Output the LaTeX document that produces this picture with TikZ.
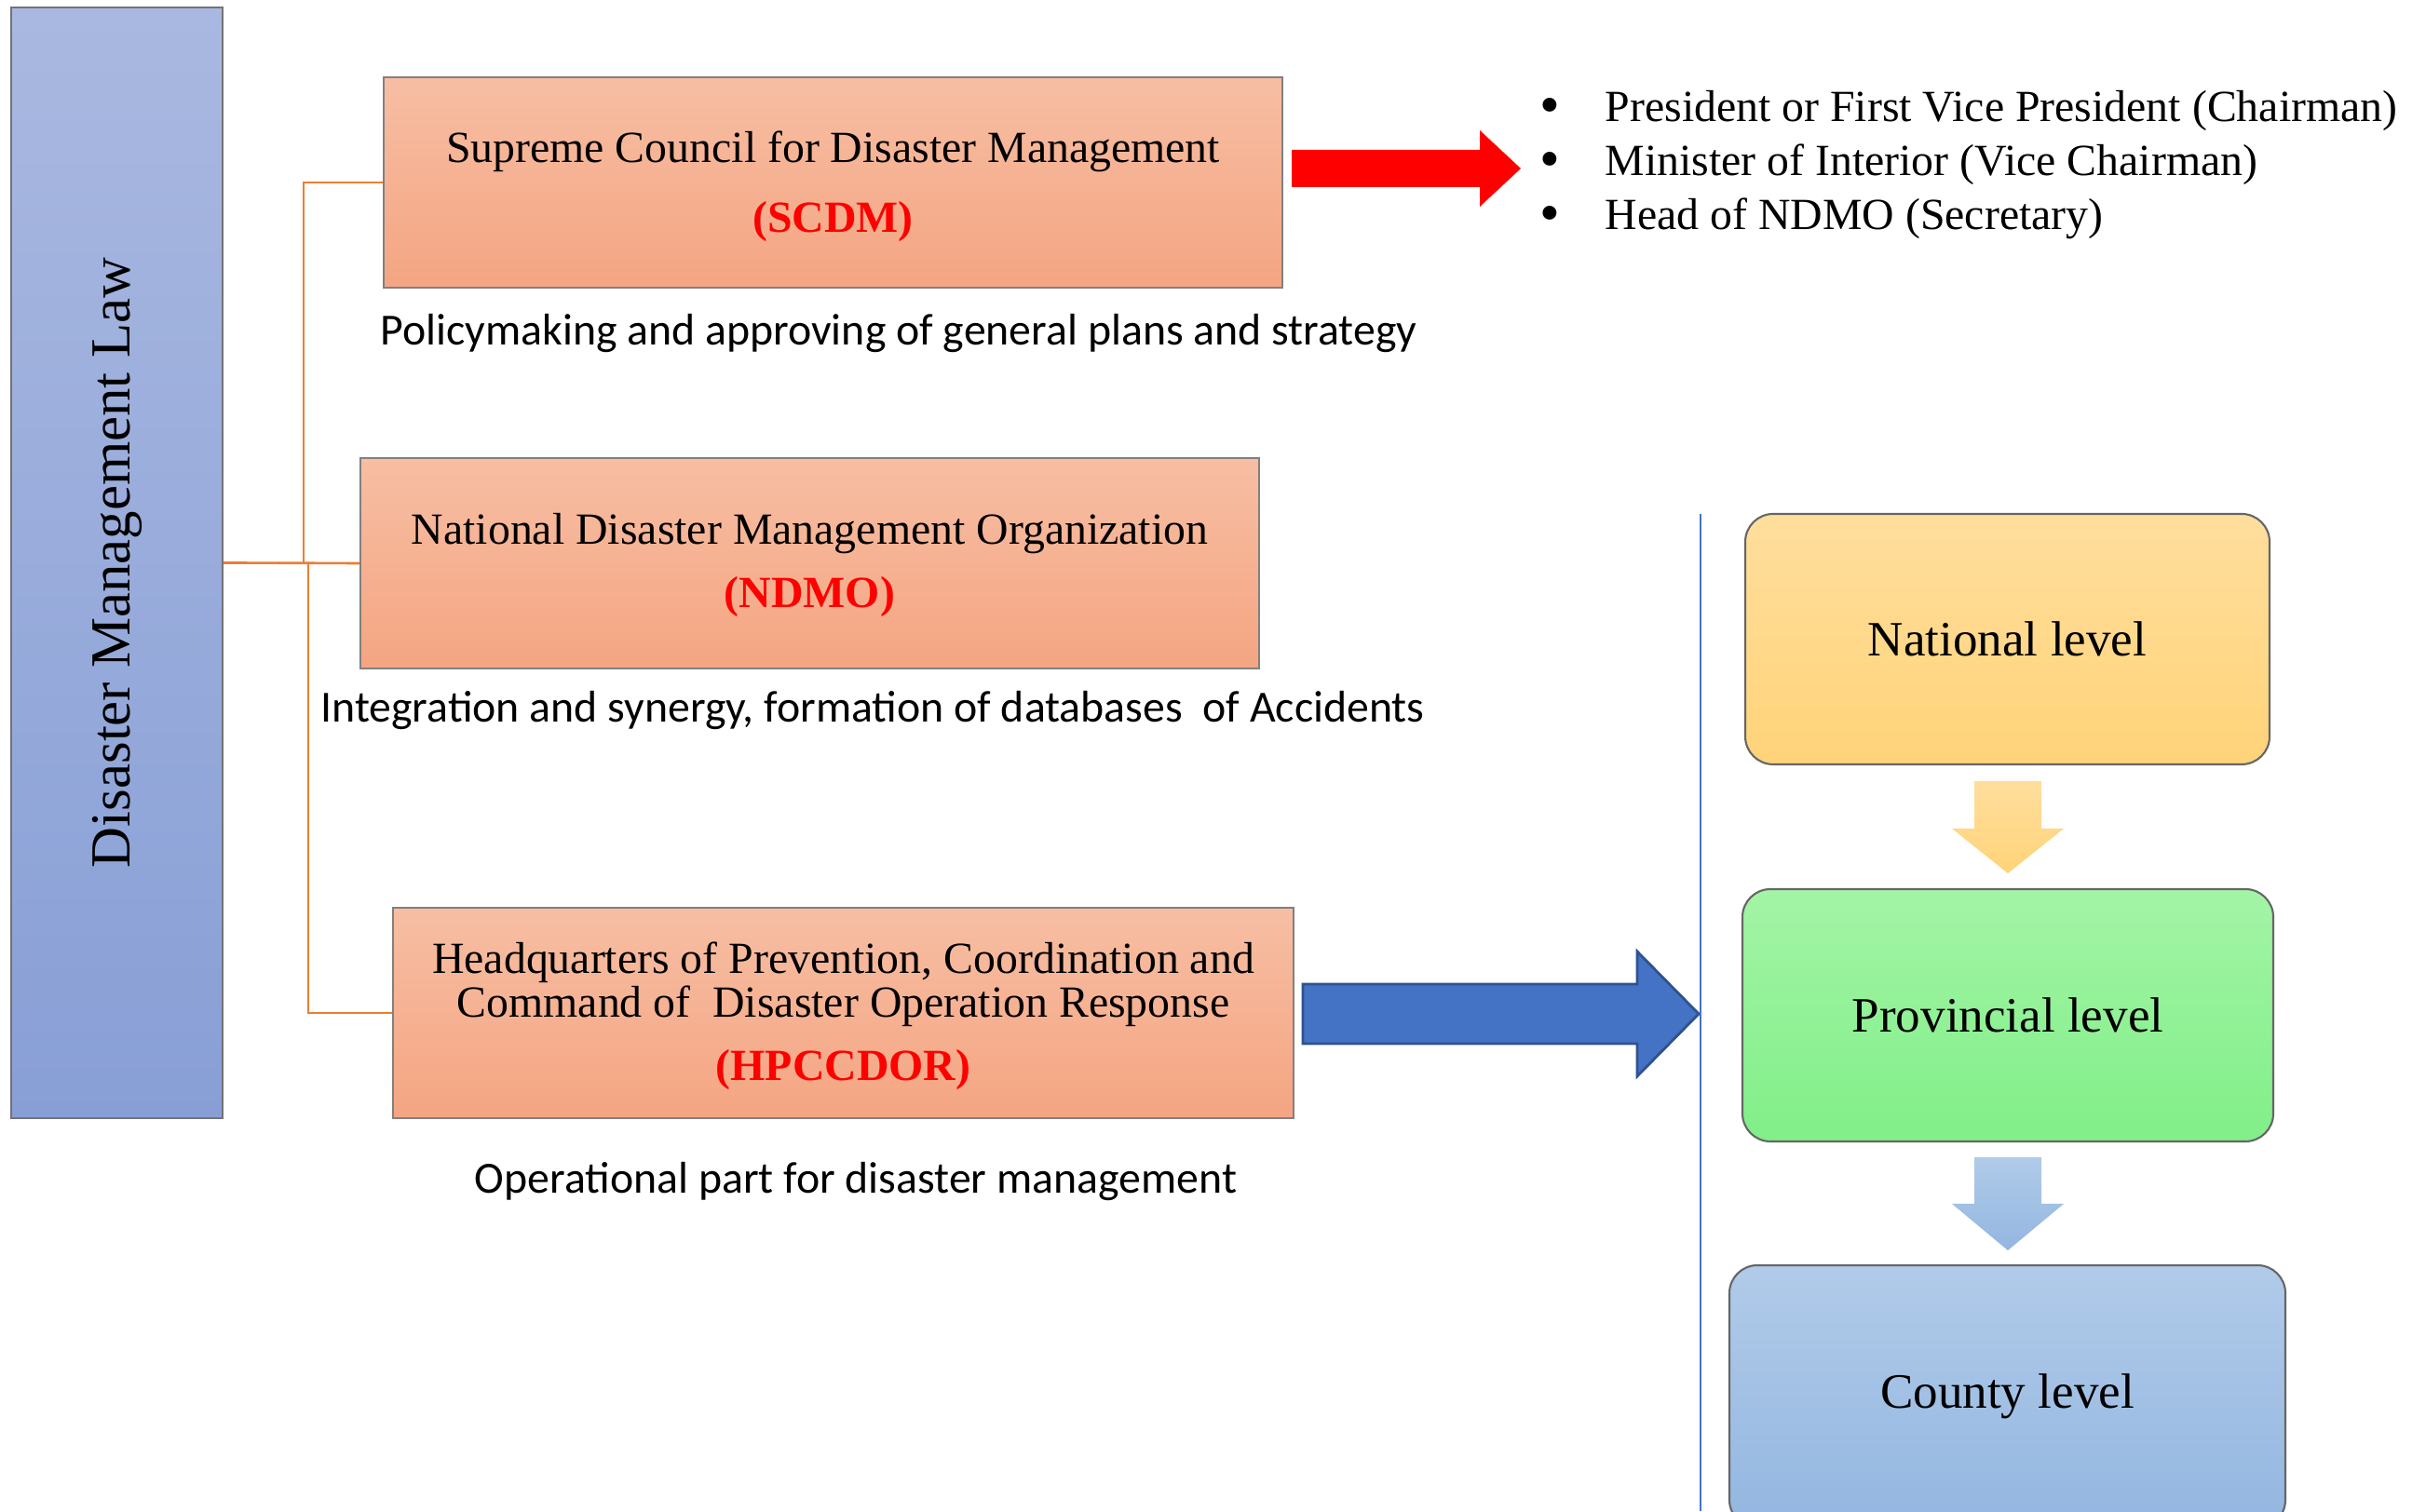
\documentclass[tikz,border=0pt]{standalone}
\usepackage{fontspec}
\setmainfont{Liberation Serif}
\newfontfamily\descfont{Carlito}
\usetikzlibrary{positioning}

\definecolor{salmontop}{HTML}{F7BEA3}
\definecolor{salmonbot}{HTML}{F4A582}
\definecolor{lawtop}{HTML}{A9B8E0}
\definecolor{lawbot}{HTML}{889FD6}
\definecolor{nattop}{HTML}{FFDE9D}
\definecolor{natbot}{HTML}{FFD379}
\definecolor{provtop}{HTML}{A3F4A6}
\definecolor{provbot}{HTML}{81EF88}
\definecolor{cnttop}{HTML}{B1CBE9}
\definecolor{cntbot}{HTML}{93B6E0}
\definecolor{linkorange}{HTML}{ED7D31}
\definecolor{opblue}{HTML}{4472C4}
\definecolor{opborder}{HTML}{2F528F}
\definecolor{boxgray}{HTML}{808080}

\newcommand{\shortname}[1]{\textcolor{red}{\bfseries #1}}
\newcommand{\bigdot}{\raisebox{-0.8pt}{\scalebox{1.3}{\textbullet}}}

\begin{document}
\begin{tikzpicture}[
    lawbox/.style={rectangle, draw=black!55, line width=0.5pt, top color=lawtop, bottom color=lawbot, minimum width=2.27cm, minimum height=11.93cm, inner sep=0pt},
    organ/.style={rectangle, draw=boxgray, line width=0.5pt, top color=salmontop, bottom color=salmonbot, minimum width=9.65cm, minimum height=2.26cm, align=center, inner sep=0pt, font=\fontsize{13.6}{14}\selectfont},
    level/.style={rectangle, rounded corners=0.3cm, draw=black!60, line width=0.6pt, inner sep=0pt, font=\fontsize{15.1}{17}\selectfont},
    desc/.style={anchor=base, inner sep=0pt, font=\descfont\fontsize{13.6}{16}\selectfont},
    member/.style={anchor=base west, inner sep=0pt, font=\fontsize{13.6}{16}\selectfont},
    link/.style={draw=linkorange, line width=0.75pt},
]
\useasboundingbox (0,0) rectangle (26.05,16.23);

\node[lawbox] (law) at (1.255,10.185) {};
\node[rotate=90, font=\fontsize{17.3}{20}\selectfont] (lawtext) at (law.center) {Disaster Management Law};

\node[organ] (scdm) at (8.945,14.27) {\rule{0pt}{11.8pt}Supreme Council for Disaster Management\\[7.3pt]\shortname{(SCDM)}};
\node[organ] (ndmo) at (8.695,10.18) {\rule{0pt}{10.4pt}National Disaster Management Organization\\[5.4pt]\shortname{(NDMO)}};
\node[organ, minimum width=9.67cm, font=\fontsize{13.6}{13.4}\selectfont] (hq) at (9.055,5.35) {\rule{0pt}{11.4pt}Headquarters of Prevention, Coordination and\\Command of \ Disaster Operation Response\\[6pt]\shortname{(HPCCDOR)}};

\node[desc] (scdmdesc) at (9.65,12.52) {Policymaking and approving of general plans and strategy};
\node[desc] (ndmodesc) at (9.37,8.47) {Integration and synergy, formation of databases \ of Accidents};
\node[desc] (hqdesc) at (9.19,3.41) {Operational part for disaster management};

\coordinate (upfork) at (3.26,10.18);
\coordinate (downfork) at (3.31,10.18);
\draw[link] (law.east) -- (ndmo.west);
\draw[link] (upfork) |- (scdm.west);
\draw[link] (downfork) |- (hq.west);

\fill[red] (13.87,14.62) -- (15.89,14.62) -- (15.89,14.83) -- (16.33,14.42) -- (15.89,14.01) -- (15.89,14.22) -- (13.87,14.22) -- cycle;

\foreach \txt [count=\i] in {President or First Vice President (Chairman), Minister of Interior (Vice Chairman), Head of NDMO (Secretary)}
    \node[member] (m\i) at (16.53,{14.925-(\i-1)*0.58}) {\makebox[0.7cm][l]{\bigdot}\txt};

\draw[fill=opblue, draw=opborder, line width=0.8pt] (13.99,5.66) -- (17.58,5.66) -- (17.58,6.01) -- (18.24,5.34) -- (17.58,4.67) -- (17.58,5.02) -- (13.99,5.02) -- cycle;

\coordinate (divtop) at (18.26,10.71);
\coordinate (divbot) at (18.26,0);
\draw[opblue, line width=0.7pt] (divtop) -- (divbot);

\node[level, top color=nattop, bottom color=natbot, minimum width=5.63cm, minimum height=2.69cm] (national) at (21.555,9.365) {National level};
\node[level, top color=provtop, bottom color=provbot, minimum width=5.70cm, minimum height=2.71cm] (provincial) at (21.56,5.325) {Provincial level};
\node[level, top color=cnttop, bottom color=cntbot, minimum width=5.97cm, minimum height=2.82cm] (county) at (21.555,1.23) {County level};

\shade[top color=nattop, bottom color=natbot] (21.20,7.84) -- (21.92,7.84) -- (21.92,7.33) -- (22.16,7.33) -- (21.56,6.85) -- (20.96,7.33) -- (21.20,7.33) -- cycle;
\shade[top color=cnttop, bottom color=cntbot] (21.20,3.80) -- (21.92,3.80) -- (21.92,3.30) -- (22.16,3.30) -- (21.56,2.80) -- (20.96,3.30) -- (21.20,3.30) -- cycle;

\end{tikzpicture}
\end{document}
